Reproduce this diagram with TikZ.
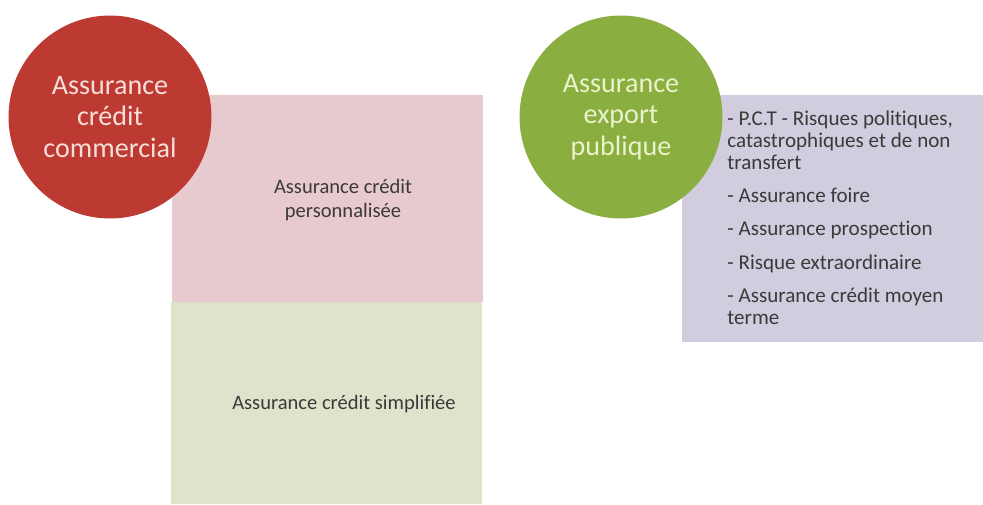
\documentclass[tikz,border=0pt]{standalone}
\usepackage{fontspec}
\setmainfont{Carlito}[Ligatures=CommonOff]
\usetikzlibrary{positioning}
\definecolor{rouge}{HTML}{BD3A33}
\definecolor{rougetexte}{HTML}{F7DED8}
\definecolor{vert}{HTML}{8BAE40}
\definecolor{verttexte}{HTML}{EAF3CC}
\definecolor{rose}{HTML}{E7CACE}
\definecolor{vertpale}{HTML}{DDE4CB}
\definecolor{mauve}{HTML}{D1CDDE}
\definecolor{texte}{HTML}{3A3A3A}
\tikzset{
  bulle/.style={circle, inner sep=0pt, minimum size=4.06cm, align=center,
    font=\fontsize{16}{17.8}\selectfont},
  bloc/.style={rectangle, inner sep=0pt},
  legende/.style={inner sep=0pt, align=center, text=texte,
    font=\fontsize{11.7}{13.6}\selectfont},
  liste/.style={inner sep=0pt, align=left, text=texte,
    font=\fontsize{12}{12.5}\selectfont}
}
\begin{document}
\begin{tikzpicture}[x=0.02cm, y=-0.02cm]
  \useasboundingbox (0,0) rectangle (983,504);
  % blocs
  \node[bloc, fill=rose, minimum width=6.22cm, minimum height=4.14cm] (B1) at (327.5,198.5) {};
  \node[bloc, fill=vertpale, minimum width=6.22cm, minimum height=4.04cm] (B2) at (326.5,403) {};
  \node[bloc, fill=mauve, minimum width=6.02cm, minimum height=4.94cm] (B3) at (832.5,218.5) {};
  % bulles
  \node[bulle, fill=rouge, text=rougetexte] (C1) at (110,117) {Assurance\\crédit\\commercial};
  \node[bulle, fill=vert, text=verttexte] (C2) at (621,117) {Assurance\\export\\publique};
  % textes
  \node[legende] (T1) at (343,200) {Assurance crédit\\personnalisée};
  \node[legende] (T2) at (344,404) {Assurance crédit simplifiée};
  \node[liste, anchor=north west] (T3) at (727,111) {- P.C.T - Risques politiques,\\catastrophiques et de non\\transfert\\[6.3pt]
    - Assurance foire\\[6.3pt]
    - Assurance prospection\\[6.3pt]
    - Risque extraordinaire\\[6.3pt]
    - Assurance crédit moyen\\terme};
\end{tikzpicture}
\end{document}
